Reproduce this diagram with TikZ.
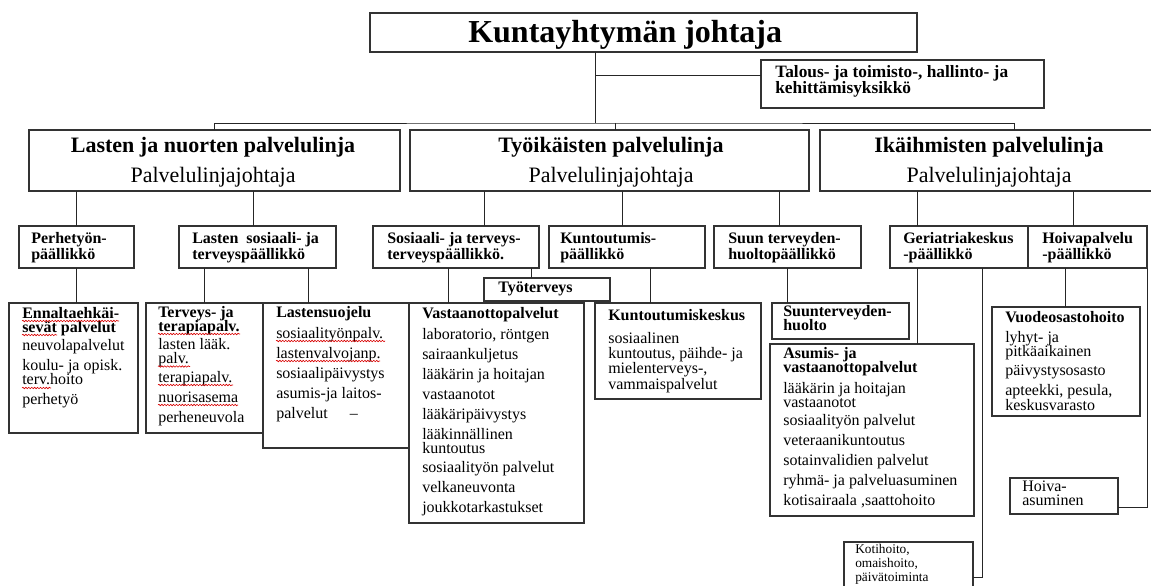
\documentclass[tikz,border=0pt]{standalone}
\usepackage{fontspec}
\setmainfont{Liberation Serif}
\usetikzlibrary{decorations.pathmorphing}
\lineskiplimit=-\maxdimen
\normallineskiplimit=-\maxdimen

\tikzset{
  orgbox/.style={draw=black!80, line width=1pt, inner sep=0pt, outer sep=0pt},
  conn/.style={draw=black!85, line width=0.75pt},
  squig/.style={draw=red!85!black, line width=0.45pt, decorate,
    decoration={snake, amplitude=0.55pt, segment length=2.2pt}},
  headtxt/.style={anchor=base west, inner sep=0pt, font=\fontsize{12}{10.5}\selectfont\bfseries},
  rowhead/.style={anchor=base west, inner sep=0pt, font=\fontsize{12}{12}\selectfont\bfseries},
  itemtxt/.style={anchor=base west, inner sep=0pt, font=\fontsize{12}{11}\selectfont},
  smalltxt/.style={anchor=base west, inner sep=0pt, font=\fontsize{10}{10.5}\selectfont},
  linetitle/.style={anchor=base, inner sep=0pt, font=\fontsize{16.5}{20}\selectfont\bfseries},
  linesub/.style={anchor=base, inner sep=0pt, font=\fontsize{16.5}{20}\selectfont},
}

% box from corner (x1,y1) to corner (x2,y2), in pixels
\newcommand{\drawbox}[5]{%
  \node[orgbox, minimum width={(#4-#2)*0.75pt}, minimum height={(#5-#3)*0.75pt}]
    (#1) at ({(#2+#4)/2},{(#3+#5)/2}) {};}
\newcommand{\boxlines}[1]{\parbox[t]{7cm}{\lineskiplimit=-\maxdimen #1}}

\begin{document}
\begin{tikzpicture}[x=0.75pt, y=-0.75pt]
\useasboundingbox[fill=white] (0,0) rectangle (1151,585);

% Johtaja and staff unit
\drawbox{top}{370}{13}{917}{52}
\node[anchor=base west, inner sep=0pt, font=\fontsize{24}{28}\selectfont\bfseries] (top-t) at (468,43) {Kuntayhtymän johtaja};
\drawbox{talous}{761}{60}{1044}{108}
\node[headtxt, font=\fontsize{13}{12.75}\selectfont\bfseries] (talous-t) at (775,77) {\boxlines{Talous- ja toimisto-, hallinto- ja\\kehittämisyksikkö}};

% Service lines
\drawbox{pl1}{29}{130}{400}{191}
\drawbox{pl2}{410}{130}{809}{191}
\drawbox{pl3}{820}{130}{1160}{191}
\foreach \n/\x/\t in {pl1/213/Lasten ja nuorten palvelulinja, pl2/611/Työikäisten palvelulinja, pl3/989/Ikäihmisten palvelulinja} {
  \node[linetitle] (\n-a) at (\x,152) {\t};
  \node[linesub] (\n-b) at (\x,182) {Palvelulinjajohtaja};
}

% Managers
\drawbox{perhe}{19}{226}{134}{268}
\drawbox{lsos}{179}{226}{336}{268}
\drawbox{sos}{373}{226}{539}{268}
\drawbox{kunt}{549}{226}{705}{268}
\drawbox{suun}{714}{226}{861}{268}
\drawbox{geri}{890}{226}{1028}{268}
\drawbox{hoiva}{1028}{226}{1147}{268}
\node[rowhead] (perhe-t) at (31,243) {\boxlines{Perhetyön-\\päällikkö}};
\node[rowhead] (lsos-t) at (192,243) {\boxlines{Lasten\enspace sosiaali- ja\\terveyspäällikkö}};
\node[rowhead] (sos-t) at (387,243) {\boxlines{Sosiaali- ja terveys-\\terveyspäällikkö.}};
\node[rowhead] (kunt-t) at (560,243) {\boxlines{Kuntoutumis-\\päällikkö}};
\node[rowhead] (suun-t) at (728,243) {\boxlines{Suun terveyden-\\huoltopäällikkö}};
\node[rowhead] (geri-t) at (903,243) {\boxlines{Geriatriakeskus\\-päällikkö}};
\node[rowhead] (hoiva-t) at (1042,243) {\boxlines{Hoivapalvelu\\-päällikkö}};

% Units
\drawbox{tyot}{484}{278}{610}{301}
\node[headtxt] (tyot-t) at (498,292) {Työterveys};

\drawbox{enn}{9}{303}{138}{433}
\node[headtxt] (enn-h) at (22,318) {\boxlines{Ennaltaehkäi-\\sevät palvelut}};
\node[itemtxt] (enn-i) at (22,350) {\boxlines{neuvolapalvelut\\[4pt]koulu- ja opisk.\\terv.hoito\\[4pt]perhetyö}};

\drawbox{terv}{146}{303}{263}{433}
\node[headtxt] (terv-h) at (158,317) {\boxlines{Terveys- ja\\terapiapalv.}};
\node[itemtxt] (terv-i) at (158,349) {\boxlines{lasten lääk.\\palv.\\[3pt]terapiapalv.\\[4pt]nuorisasema\\[4pt]perheneuvola}};

\drawbox{lsuo}{263}{303}{409}{448}
\node[headtxt] (lsuo-h) at (276,317) {Lastensuojelu};
\node[itemtxt] (lsuo-i) at (276,338) {\boxlines{sosiaalityönpalv.\\[4pt]lastenvalvojanp.\\[4pt]sosiaalipäivystys\\[4pt]asumis-ja laitos-\\[4pt]palvelut\hspace{16.5pt}–}};

\drawbox{vast}{409}{303}{584}{523}
\node[headtxt] (vast-h) at (422,318) {Vastaanottopalvelut};
\node[itemtxt] (vast-i) at (422,339) {\boxlines{laboratorio, röntgen\\[4pt]sairaankuljetus\\[4pt]lääkärin ja hoitajan\\[4pt]vastaanotot\\[4pt]lääkäripäivystys\\[4pt]lääkinnällinen\\kuntoutus\\[3pt]sosiaalityön palvelut\\[4pt]velkaneuvonta\\[4pt]joukkotarkastukset}};

\drawbox{kkesk}{595}{303}{761}{399}
\node[headtxt] (kkesk-h) at (608,320) {Kuntoutumiskeskus};
\node[itemtxt] (kkesk-i) at (608,343) {\boxlines{sosiaalinen\\[0.5pt]kuntoutus, päihde- ja\\[0.5pt]mielenterveys-,\\[0.5pt]vammaispalvelut}};

\drawbox{suunt}{772}{303}{909}{339}
\node[headtxt] (suunt-h) at (783,316) {\boxlines{Suunterveyden-\\huolto}};

\drawbox{vuode}{992}{307}{1140}{416}
\node[headtxt] (vuode-h) at (1005,322) {Vuodeosastohoito};
\node[itemtxt] (vuode-i) at (1005,342) {\boxlines{lyhyt- ja\\pitkäaikainen\\[3pt]päivystysosasto\\[4pt]apteekki, pesula,\\keskusvarasto}};

\drawbox{asum}{770}{344}{974}{516}
\node[headtxt] (asum-h) at (783,358) {\boxlines{Asumis- ja\\vastaanottopalvelut}};
\node[itemtxt] (asum-i) at (783,393) {\boxlines{lääkärin ja hoitajan\\vastaanotot\\[2pt]sosiaalityön palvelut\\[4pt]veteraanikuntoutus\\[4pt]sotainvalidien palvelut\\[4pt]ryhmä- ja palveluasuminen\\[4pt]kotisairaala ,saattohoito}};

\drawbox{hasum}{1010}{478}{1118}{514}
\node[itemtxt] (hasum-i) at (1022,491) {\boxlines{Hoiva-\\asuminen}};

\drawbox{koti}{844}{542}{973}{592}
\node[smalltxt] (koti-i) at (855,553) {\boxlines{Kotihoito,\\omaishoito,\\päivätoiminta}};

% spell-check marks under words
\foreach \xa/\xb/\y in {22/119/321, 22/57/335, 22/51/388, 158/240/334, 158/190/366.5,
                        158/233/385, 158/238/405, 276/385/341, 276/380/361}
  \draw[squig] (\xa,\y) -- (\xb,\y);

% connector columns
\coordinate (hub) at (595,123);
\coordinate (talj) at (595,75);
\foreach \c/\x in {pl2/615, pl3/1014, lsos/253, sos/484, kunt/622, suun/779, geri/917, hoiva/1073,
                   lsuo/308, vast/448, tyot/531, kkesk/650, koti/982, vuode/1065}
  \coordinate (x-\c) at (\x,0);

% Connectors
\draw[conn] (top.south -| hub) -- (hub);
\draw[conn] (talj) -- (talj -| talous.west);
\draw[conn] (pl1.north) |- (hub) -| (pl3.north -| x-pl3);
\draw[conn] (hub -| x-pl2) -- (pl2.north -| x-pl2);

\draw[conn] (pl1.south -| perhe.north) -- (perhe.north);
\draw[conn] (pl1.south -| x-lsos) -- (lsos.north -| x-lsos);
\draw[conn] (pl2.south -| x-sos) -- (sos.north -| x-sos);
\draw[conn] (pl2.south -| x-kunt) -- (kunt.north -| x-kunt);
\draw[conn] (pl2.south -| x-suun) -- (suun.north -| x-suun);
\draw[conn] (pl3.south -| x-geri) -- (geri.north -| x-geri);
\draw[conn] (pl3.south -| x-hoiva) -- (hoiva.north -| x-hoiva);

\draw[conn] (perhe.south) -- (perhe.south |- enn.north);
\draw[conn] (lsos.south -| terv.north) -- (terv.north);
\draw[conn] (lsos.south -| x-lsuo) -- (lsuo.north -| x-lsuo);
\draw[conn] (sos.south -| x-vast) -- (vast.north -| x-vast);
\draw[conn] (sos.south -| x-tyot) -- (tyot.north -| x-tyot);
\draw[conn] (kunt.south -| x-kkesk) -- (kkesk.north -| x-kkesk);
\draw[conn] (suun.south) -- (suun.south |- suunt.north);
\draw[conn] (geri.south -| x-geri) -- (asum.north -| x-geri);
\draw[conn] (geri.south -| x-koti) |- ([yshift=-7.5pt]koti.east);
\draw[conn] (hoiva.south -| x-vuode) -- (vuode.north -| x-vuode);
\draw[conn] (hoiva.south east) |- ([yshift=-8.25pt]hasum.east);

\end{tikzpicture}
\end{document}
